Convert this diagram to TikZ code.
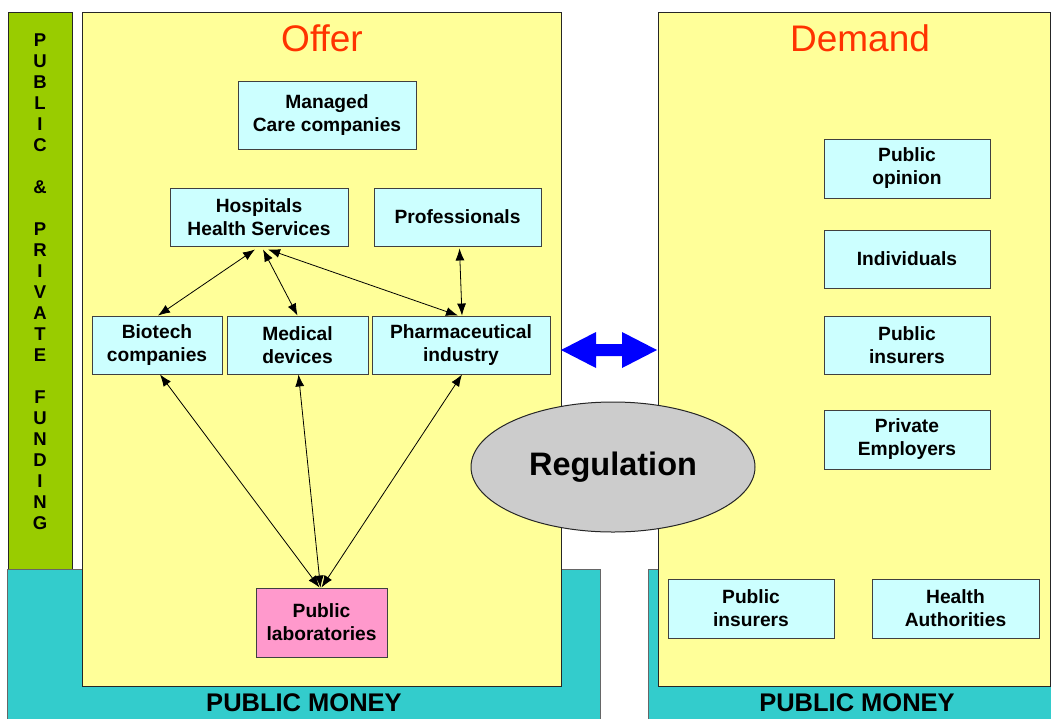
\documentclass[tikz,border=0pt]{standalone}
\usepackage{fontspec}
\setmainfont{Liberation Sans}
\usetikzlibrary{arrows.meta,shapes.geometric}
\definecolor{panelyellow}{HTML}{FFFF99}
\definecolor{boxcyan}{HTML}{CCFFFF}
\definecolor{labpink}{HTML}{FF99CC}
\definecolor{fundgreen}{HTML}{99CC00}
\definecolor{moneyteal}{HTML}{33CCCC}
\definecolor{titlered}{HTML}{FF3300}
\definecolor{reggrey}{HTML}{CCCCCC}
\definecolor{arrowblue}{HTML}{0000FF}
\begin{document}
\begin{tikzpicture}[x=1pt,y=-1pt,
  frame/.style={draw=black!85, line width=1pt},
  box/.style={draw=black!75, line width=0.9pt, fill=boxcyan, inner sep=0pt,
    align=center, font=\fontsize{19.2}{23}\selectfont\bfseries},
  title/.style={text=titlered, font=\fontsize{37}{42}\selectfont},
  money/.style={font=\fontsize{25.5}{30}\selectfont\bfseries},
  letter/.style={inner sep=0pt, font=\fontsize{18.5}{21}\selectfont\bfseries},
  link/.style={{Latex[length=12pt,width=9pt]}-{Latex[length=12pt,width=9pt]}, line width=0.8pt}]
\useasboundingbox (0,0) rectangle (1051,718);
\clip (0,0) rectangle (1051,718);
\fill[white] (0,0) rectangle (1051,718);

% funding bar and public money bands
\filldraw[frame, fill=fundgreen] (8,12) rectangle (72,569);
\filldraw[frame, draw=black!60, fill=moneyteal] (7,569) rectangle (600,730);
\filldraw[frame, draw=black!60, fill=moneyteal] (648,569) rectangle (1070,730);

% offer and demand panels
\filldraw[frame, fill=panelyellow] (82,12) rectangle (561,686);
\filldraw[frame, fill=panelyellow] (658,12) rectangle (1050,686);

\foreach \c [count=\i] in {P,U,B,L,I,C,{},\&,{},P,R,I,V,A,T,E,{},F,U,N,D,I,N,G}
  \node[letter] (fund\i) at (40,{40+21*(\i-1)}) {\c};

\node[title] (offer) at (322,38) {Offer};
\node[title] (demand) at (860,38) {Demand};
\node[money] (moneyL) at (304,703) {PUBLIC MONEY};
\node[money] (moneyR) at (857,703) {PUBLIC MONEY};

% offer side
\node[box, minimum width=178, minimum height=68] (managed) at (327,115) {Managed\\Care companies};
\node[box, minimum width=178, minimum height=58] (hosp) at (259,217) {Hospitals\\Health Services};
\node[box, minimum width=167, minimum height=58] (prof) at (457.5,217) {Professionals};
\node[box, minimum width=130, minimum height=58] (biotech) at (157,345) {Biotech\\companies};
\node[box, minimum width=141, minimum height=58] (medical) at (297.5,345) {Medical\\devices};
\node[box, minimum width=178, minimum height=58] (pharma) at (461,345) {Pharmaceutical\\industry};
\node[box, fill=labpink, minimum width=131, minimum height=69] (labs) at (321.5,622.5) {Public\\laboratories};

% demand side
\node[box, minimum width=166, minimum height=59] (opinion) at (907,168.5) {Public\\opinion};
\node[box, minimum width=166, minimum height=58] (indiv) at (907,259) {Individuals};
\node[box, minimum width=166, minimum height=58] (insurers) at (907,345) {Public\\insurers};
\node[box, minimum width=166, minimum height=59] (employers) at (907,439.5) {Private\\Employers};
\node[box, minimum width=166, minimum height=59] (insurersB) at (751,608.5) {Public\\insurers};
\node[box, minimum width=167, minimum height=59] (authorities) at (955.5,608.5) {Health\\Authorities};

% regulation
\node[ellipse, draw=black!85, line width=1pt, fill=reggrey, minimum width=284, minimum height=130,
  font=\fontsize{32.5}{36}\selectfont\bfseries] (reg) at (613,467) {Regulation};

% links among the offer actors
\draw[link] ([xshift=-4pt,yshift=-3pt]hosp.south) -- ([xshift=1pt]biotech.north);
\draw[link] ([xshift=4pt,yshift=-3pt]hosp.south) -- (medical.north);
\draw[link] ([xshift=9pt,yshift=-3pt]hosp.south) -- ([xshift=-3pt]pharma.north);
\draw[link] ([xshift=2pt,yshift=-2pt]prof.south) -- ([xshift=1pt]pharma.north);
\draw[link] ([xshift=3pt]biotech.south) -- ([xshift=-2pt]labs.north);
\draw[link] ([xshift=1pt]medical.south) -- ([xshift=-1pt]labs.north);
\draw[link] ([xshift=1pt]pharma.south) -- ([xshift=0pt]labs.north);

% exchange between offer and demand
\fill[arrowblue] (561,350) -- (596,332) -- (596,344) -- (622,344) -- (622,332)
  -- (657,350) -- (622,368) -- (622,356) -- (596,356) -- (596,368) -- cycle;
\end{tikzpicture}
\end{document}
